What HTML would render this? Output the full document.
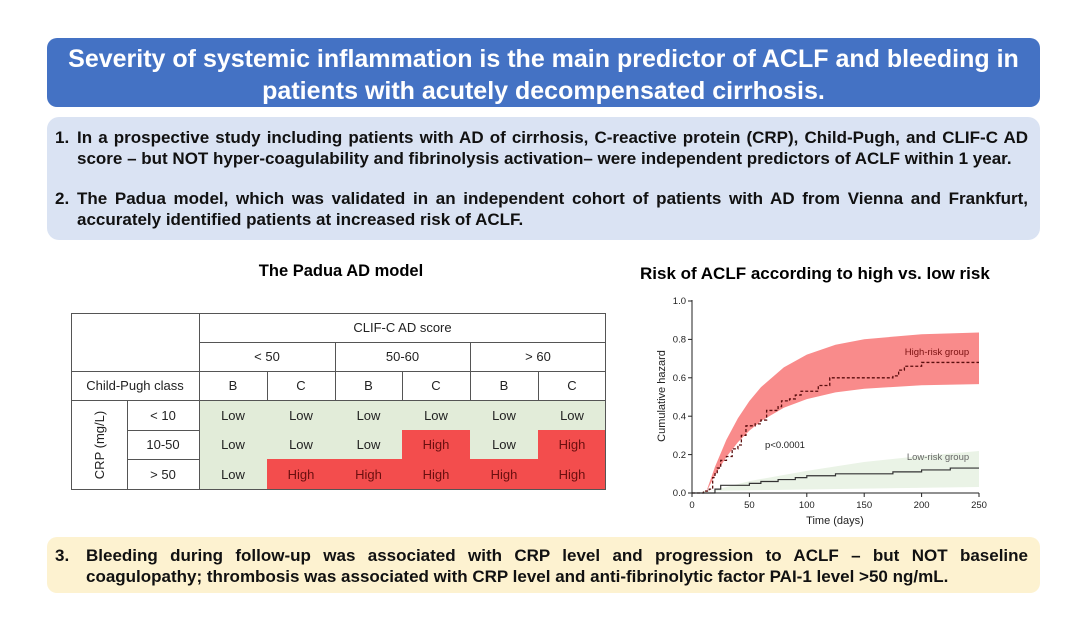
<!DOCTYPE html>
<html><head><meta charset="utf-8"><style>
body{margin:0;width:1080px;height:618px;background:#fff;position:relative;overflow:hidden;font-family:"Liberation Sans",Arial,sans-serif;}
.abs{position:absolute;}
.title{left:47px;top:38px;width:993px;height:69px;background:#4472c4;border-radius:10px;color:#fff;font-weight:bold;font-size:25px;line-height:32px;text-align:center;padding-top:5px;box-sizing:border-box;white-space:nowrap;}
.box1{left:47px;top:117px;width:993px;height:123px;background:#dae3f3;border-radius:12px;}
.box3{left:47px;top:537px;width:993px;height:56px;background:#fdf2d0;border-radius:10px;}
.j{font-weight:bold;font-size:17px;line-height:21px;color:#111;text-align:justify;text-align-last:justify;white-space:nowrap;}
.l{font-weight:bold;font-size:17px;line-height:21px;color:#111;white-space:nowrap;}
.c{position:absolute;display:flex;align-items:center;justify-content:center;font-family:"Liberation Sans",sans-serif;font-size:13px;color:#222;}
.ln{position:absolute;background:#555;}
</style></head><body>
<div class="abs title">Severity of systemic inflammation is the main predictor of ACLF and bleeding in<br>patients with acutely decompensated cirrhosis.</div>
<div class="abs box1"></div>
<div class="abs l" style="left:55px;top:127px">1.</div>
<div class="abs j" style="left:77px;top:127px;width:951px">In a prospective study including patients with AD of cirrhosis, C-reactive protein (CRP), Child-Pugh, and CLIF-C AD</div>
<div class="abs l" style="left:77px;top:148px">score – but NOT hyper-coagulability and fibrinolysis activation– were independent predictors of ACLF within 1 year.</div>
<div class="abs l" style="left:55px;top:188px">2.</div>
<div class="abs j" style="left:77px;top:188px;width:951px">The Padua model, which was validated in an independent cohort of patients with AD from Vienna and Frankfurt,</div>
<div class="abs l" style="left:77px;top:209px">accurately identified patients at increased risk of ACLF.</div>
<div class="abs box3"></div>
<div class="abs l" style="left:55px;top:545px">3.</div>
<div class="abs j" style="left:86px;top:545px;width:942px">Bleeding during follow-up was associated with CRP level and progression to ACLF – but NOT baseline</div>
<div class="abs l" style="left:86px;top:566px">coagulopathy; thrombosis was associated with CRP level and anti-fibrinolytic factor PAI-1 level &gt;50 ng/mL.</div>

<div class="abs" style="left:241px;top:262px;width:200px;text-align:center;font-weight:bold;font-size:16.5px">The Padua AD model</div>
<div class="abs" style="left:640px;top:264px;font-weight:bold;font-size:17px;white-space:nowrap">Risk of ACLF according to high vs. low risk</div>

<div class="abs" style="left:199px;top:400px;width:407px;height:90px;background:#e2ecd9"></div>
<div class="abs" style="left:402px;top:430px;width:68px;height:29px;background:#f34d4d"></div>
<div class="abs" style="left:538px;top:430px;width:68px;height:29px;background:#f34d4d"></div>
<div class="abs" style="left:267px;top:459px;width:339px;height:31px;background:#f34d4d"></div>
<div class="abs" style="left:71px;top:313px;width:535px;height:177px;border:1px solid #555;box-sizing:border-box"></div>
<div class="ln" style="left:199px;top:342px;width:407px;height:1px"></div>
<div class="ln" style="left:71px;top:371px;width:535px;height:1px"></div>
<div class="ln" style="left:71px;top:400px;width:535px;height:1px"></div>
<div class="ln" style="left:127px;top:430px;width:72px;height:1px"></div>
<div class="ln" style="left:127px;top:459px;width:72px;height:1px"></div>
<div class="ln" style="left:199px;top:313px;width:1px;height:177px"></div>
<div class="ln" style="left:127px;top:400px;width:1px;height:90px"></div>
<div class="ln" style="left:335px;top:342px;width:1px;height:58px"></div>
<div class="ln" style="left:470px;top:342px;width:1px;height:58px"></div>
<div class="ln" style="left:267px;top:371px;width:1px;height:29px"></div>
<div class="ln" style="left:402px;top:371px;width:1px;height:29px"></div>
<div class="ln" style="left:538px;top:371px;width:1px;height:29px"></div>
<div class="c" style="left:199px;top:313px;width:407px;height:29px">CLIF-C AD score</div>
<div class="c" style="left:199px;top:342px;width:136px;height:29px">&lt; 50</div>
<div class="c" style="left:335px;top:342px;width:135px;height:29px">50-60</div>
<div class="c" style="left:470px;top:342px;width:136px;height:29px">&gt; 60</div>
<div class="c" style="left:71px;top:371px;width:128px;height:29px">Child-Pugh class</div>
<div class="c" style="left:199px;top:371px;width:68px;height:29px">B</div>
<div class="c" style="left:267px;top:371px;width:68px;height:29px">C</div>
<div class="c" style="left:335px;top:371px;width:67px;height:29px">B</div>
<div class="c" style="left:402px;top:371px;width:68px;height:29px">C</div>
<div class="c" style="left:470px;top:371px;width:68px;height:29px">B</div>
<div class="c" style="left:538px;top:371px;width:68px;height:29px">C</div>
<div class="c" style="left:127px;top:400px;width:72px;height:30px">&lt; 10</div>
<div class="c" style="left:127px;top:430px;width:72px;height:29px">10-50</div>
<div class="c" style="left:127px;top:459px;width:72px;height:31px">&gt; 50</div>
<div class="c" style="left:54px;top:433px;width:90px;height:24px;transform:rotate(-90deg)">CRP (mg/L)</div>
<div class="c" style="left:199px;top:400px;width:68px;height:30px">Low</div><div class="c" style="left:267px;top:400px;width:68px;height:30px">Low</div><div class="c" style="left:335px;top:400px;width:67px;height:30px">Low</div><div class="c" style="left:402px;top:400px;width:68px;height:30px">Low</div><div class="c" style="left:470px;top:400px;width:68px;height:30px">Low</div><div class="c" style="left:538px;top:400px;width:68px;height:30px">Low</div>
<div class="c" style="left:199px;top:430px;width:68px;height:29px">Low</div><div class="c" style="left:267px;top:430px;width:68px;height:29px">Low</div><div class="c" style="left:335px;top:430px;width:67px;height:29px">Low</div><div class="c" style="left:402px;top:430px;width:68px;height:29px;color:#6a0f0f">High</div><div class="c" style="left:470px;top:430px;width:68px;height:29px">Low</div><div class="c" style="left:538px;top:430px;width:68px;height:29px;color:#6a0f0f">High</div>
<div class="c" style="left:199px;top:459px;width:68px;height:31px">Low</div><div class="c" style="left:267px;top:459px;width:68px;height:31px;color:#6a0f0f">High</div><div class="c" style="left:335px;top:459px;width:67px;height:31px;color:#6a0f0f">High</div><div class="c" style="left:402px;top:459px;width:68px;height:31px;color:#6a0f0f">High</div><div class="c" style="left:470px;top:459px;width:68px;height:31px;color:#6a0f0f">High</div><div class="c" style="left:538px;top:459px;width:68px;height:31px;color:#6a0f0f">High</div>

<svg class="abs" style="left:0;top:0" width="1080" height="618">
<polygon points="703,493 750,481 806,471 864,462 921,456 979,451 979,487 703,491" fill="#eaf3e6"/>
<polygon points="705.8,493 715,466.7 726.4,439.8 737.9,418.3 749.4,401 760.9,387.2 783.8,367.4 806.8,354.6 835.5,344.8 864.2,339.2 921.6,334.2 979,332.5 979,384.1 921.6,385.3 864.2,388.7 835.5,392.4 806.8,399.1 783.8,407.8 760.9,421.2 749.4,430.6 737.9,442.3 726.4,456.9 715,475.1" fill="#f98b8b"/>
<g transform="matrix(1.148,0,0,-192,692,493)" fill="none">
<path vector-effect="non-scaling-stroke" stroke="#5a0d0d" stroke-width="1.3" stroke-dasharray="3,2" d="M0 0 H10 V0.01 H15 V0.02 H18 V0.08 H20 V0.1 H22 V0.13 H25 V0.17 H30 V0.19 H35 V0.23 H40 V0.25 H43 V0.3 H47 V0.35 H55 V0.36 H60 V0.38 H65 V0.43 H75 V0.45 H78 V0.48 H85 V0.49 H90 V0.51 H95 V0.53 H110 V0.56 H120 V0.6 H175 V0.61 H180 V0.64 H185 V0.66 H200 V0.68 H250"/>
<path vector-effect="non-scaling-stroke" stroke="#333" stroke-width="1.2" d="M0 0 H20 V0.02 H25 V0.04 H50 V0.05 H60 V0.06 H75 V0.07 H90 V0.08 H100 V0.09 H125 V0.1 H175 V0.11 H200 V0.12 H225 V0.13 H250"/>
</g>
<g stroke="#222" stroke-width="1">
<line x1="692" y1="300" x2="692" y2="493"/><line x1="692" y1="493" x2="979" y2="493"/>
<line x1="688" y1="301" x2="692" y2="301"/><line x1="688" y1="339.4" x2="692" y2="339.4"/><line x1="688" y1="377.8" x2="692" y2="377.8"/><line x1="688" y1="416.2" x2="692" y2="416.2"/><line x1="688" y1="454.6" x2="692" y2="454.6"/><line x1="688" y1="493" x2="692" y2="493"/>
<line x1="692" y1="493" x2="692" y2="497"/><line x1="749.4" y1="493" x2="749.4" y2="497"/><line x1="806.8" y1="493" x2="806.8" y2="497"/><line x1="864.2" y1="493" x2="864.2" y2="497"/><line x1="921.6" y1="493" x2="921.6" y2="497"/><line x1="979" y1="493" x2="979" y2="497"/>
</g>
<g font-family="Liberation Sans, sans-serif" font-size="9.5" fill="#222" text-anchor="end">
<text x="686" y="304">1.0</text><text x="686" y="342.5">0.8</text><text x="686" y="381">0.6</text><text x="686" y="419.5">0.4</text><text x="686" y="458">0.2</text><text x="686" y="496">0.0</text>
</g>
<g font-family="Liberation Sans, sans-serif" font-size="9.5" fill="#222" text-anchor="middle">
<text x="692" y="508">0</text><text x="749.4" y="508">50</text><text x="806.8" y="508">100</text><text x="864.2" y="508">150</text><text x="921.6" y="508">200</text><text x="979" y="508">250</text>
<text x="835" y="524" font-size="11">Time (days)</text>
<text transform="translate(665,396) rotate(-90)" font-size="11">Cumulative hazard</text>
<text x="785" y="448" font-size="9.5">p&lt;0.0001</text>
<text x="937" y="355" font-size="9.5" fill="#7a1010">High-risk group</text>
<text x="938" y="460" font-size="9.5" fill="#666">Low-risk group</text>
</g>
</svg>
</body></html>
